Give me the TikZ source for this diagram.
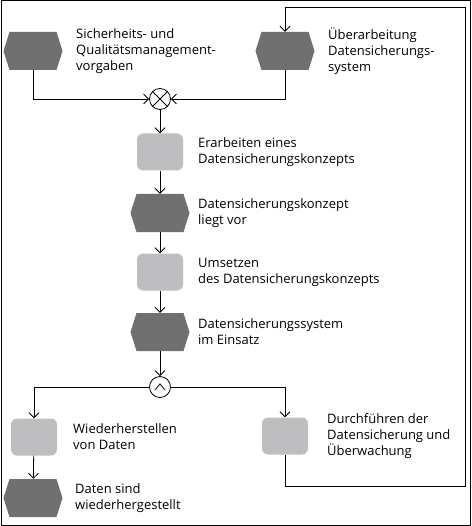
\documentclass[tikz,border=0pt]{standalone}
\usepackage{fontspec}
\setmainfont{Open Sans}
\usepackage{xcolor}
\usepackage{tikz}
\usetikzlibrary{calc,positioning,shapes.symbols,arrows.meta}

\definecolor{eventgray}{RGB}{112,112,112}
\definecolor{funcgray}{RGB}{190,190,192}

\begin{document}
\begin{tikzpicture}[
    x=1pt,y=-1pt,
    event/.style={
      signal,
      signal to=west and east,
      signal pointer angle=145,
      fill=eventgray,
      minimum width=59pt,
      minimum height=38pt,
      inner sep=0pt
    },
    func/.style={
      rectangle,
      rounded corners=6pt,
      fill=funcgray,
      minimum width=46pt,
      minimum height=37pt,
      inner sep=0pt
    },
    conn/.style={circle,draw=black,line width=0.8pt,minimum size=21pt,inner sep=0pt},
    txt/.style={font=\fontsize{13}{16}\selectfont,align=left,inner sep=0pt},
    flow/.style={draw=black,line width=0.8pt,-{Straight Barb[length=5pt,width=10pt]}}
  ]
    \useasboundingbox (0,0) rectangle (471,526);
    \draw[black,line width=1pt] (1,1) rectangle (470,525);

    \node[event] (e1) at (33,51) {};
    \node[txt,right=43pt of e1.center] (e1t) {Sicherheits- und\\Qualitätsmanagement-\\vorgaben};
    \node[event] (e2) at (285,51) {};
    \node[txt,right=43pt of e2.center] (e2t) {Überarbeitung\\Datensicherungs-\\system};

    \node[conn] (xor) at (160,99) {};
    \draw[line width=0.8pt] (xor.north west) -- (xor.south east)
      (xor.north east) -- (xor.south west);

    \node[func] (f1) at (160,152) {};
    \node[txt,right=38pt of f1.center] (f1t) {Erarbeiten eines\\Datensicherungskonzepts};
    \node[event] (e3) at (160,213) {};
    \node[txt,right=38pt of e3.center] (e3t) {Datensicherungskonzept\\liegt vor};
    \node[func] (f2) at (160,272) {};
    \node[txt,right=38pt of f2.center] (f2t) {Umsetzen\\des Datensicherungskonzepts};
    \node[event] (e4) at (160,332) {};
    \node[txt,right=38pt of e4.center] (e4t) {Datensicherungssystem\\im Einsatz};

    \node[conn] (and) at (160,387) {};
    \draw[line width=0.8pt] ($(and.center)+(-5,3)$) -- ++(5,-6) -- ++(5,6);

    \node[func] (f3) at (34,437) {};
    \node[txt,right=39pt of f3.center] (f3t) {Wiederherstellen\\von Daten};
    \node[func] (f4) at (285,436) {};
    \node[txt,right=42pt of f4.center] (f4t) {Durchführen der\\Datensicherung und\\Überwachung};
    \node[event] (e5) at (33,498) {};
    \node[txt,right=42pt of e5.center] (e5t) {Daten sind\\wiederhergestellt};

    \coordinate (fbbot) at (465,486);
    \coordinate (fbtop) at (465,7);

    \draw[flow] (e1) |- (xor);
    \draw[flow] (e2) |- (xor);
    \draw[flow] (xor) -- (f1);
    \draw[flow] (f1) -- (e3);
    \draw[flow] (e3) -- (f2);
    \draw[flow] (f2) -- (e4);
    \draw[flow] (e4) -- (and);
    \draw[flow] (and) -| (f3);
    \draw[flow] (and) -| (f4);
    \draw[flow] (f3) -- (e5);
    \draw[flow] (f4) |- (fbbot) -- (fbtop) -| (e2);
  \end{tikzpicture}
\end{document}
